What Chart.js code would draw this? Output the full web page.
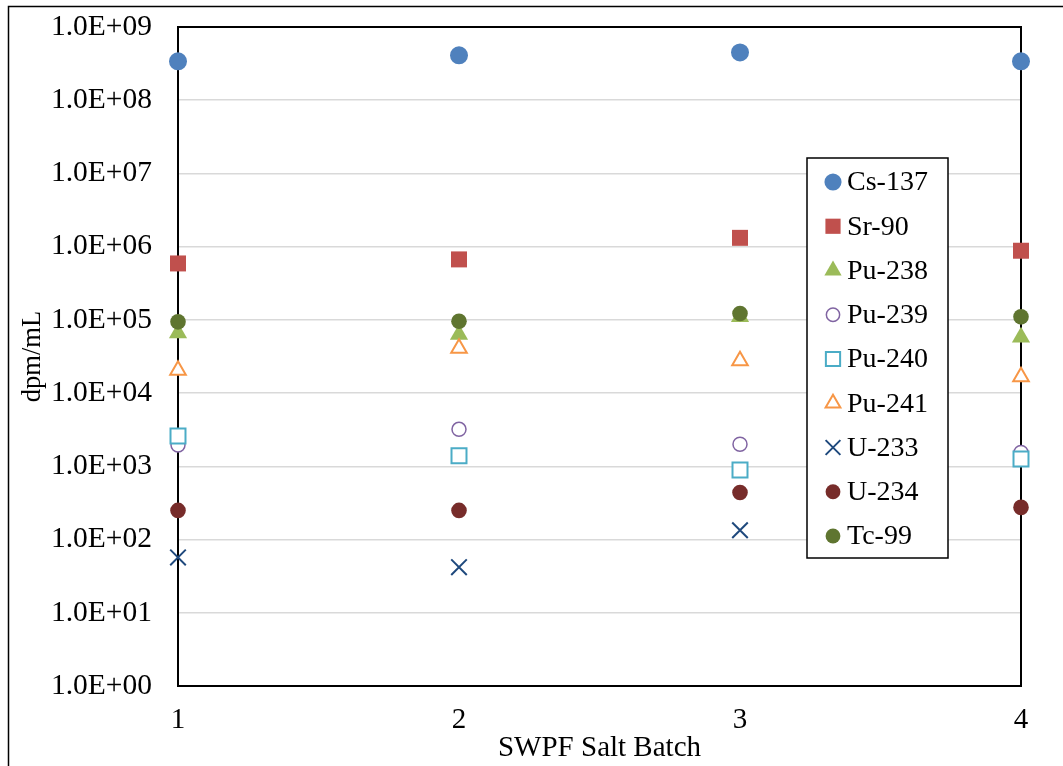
<!DOCTYPE html>
<html>
<head>
<meta charset="utf-8">
<script src="https://cdn.jsdelivr.net/npm/chart.js@4/dist/chart.umd.min.js"></script>
<style>
html,body{margin:0;padding:0;background:#fff;}
#wrap{width:1063px;height:766px;position:relative;}
</style>
</head>
<body>
<div id="wrap"><canvas id="c" width="1063" height="766"></canvas></div>
<script>
const batches = [1, 2, 3, 4];
const xTickLabels = ['1', '2', '3', '4'];
const yTickValues = [1, 10, 100, 1000, 1e4, 1e5, 1e6, 1e7, 1e8, 1e9];
const yTickLabels = ['1.0E+00','1.0E+01','1.0E+02','1.0E+03','1.0E+04','1.0E+05','1.0E+06','1.0E+07','1.0E+08','1.0E+09'];
const seriesNames = ['Cs-137','Sr-90','Pu-238','Pu-239','Pu-240','Pu-241','U-233','U-234','Tc-99'];

const cs137 = [3.4e8, 4.1e8, 4.5e8, 3.4e8];
const sr90  = [5.9e5, 6.7e5, 1.32e6, 8.8e5];
const pu238 = [6.6e4, 6.3e4, 1.1e5, 5.8e4];
const pu239 = [1.95e3, 3.2e3, 2.0e3, 1.55e3];
const pu240 = [2.6e3, 1.4e3, 890, 1.26e3];
const pu241 = [2.06e4, 4.1e4, 2.76e4, 1.67e4];
const u233  = [57, 42, 134, null];
const u234  = [250, 250, 440, 275];
const tc99  = [9.4e4, 9.6e4, 1.22e5, 1.1e5];

const seriesValues = [cs137, sr90, pu238, pu239, pu240, pu241, u233, u234, tc99];
const styles = [
  {pointStyle:'circle',   radius:9,    bg:'#4F81BD', border:'#4F81BD', bw:0},
  {pointStyle:'rect',     radius:11.3, bg:'#C0504D', border:'#C0504D', bw:0},
  {pointStyle:'triangle', radius:10.5, bg:'#9BBB59', border:'#9BBB59', bw:0},
  {pointStyle:'circle',   radius:7,    bg:'#FFFFFF', border:'#8064A2', bw:1.5},
  {pointStyle:'rect',     radius:10.6, bg:'#FFFFFF', border:'#4BACC6', bw:2},
  {pointStyle:'triangle', radius:9,    bg:'#FFFFFF', border:'#F79646', bw:2},
  {pointStyle:'crossRot', radius:11,   bg:'#1F497D', border:'#1F497D', bw:2},
  {pointStyle:'circle',   radius:7.8,  bg:'#772C2A', border:'#772C2A', bw:0},
  {pointStyle:'circle',   radius:7.8,  bg:'#5F7530', border:'#5F7530', bw:0}
];

const datasets = seriesNames.map((name, i) => ({
  label: name,
  data: batches.map((b, j) => ({x: b, y: seriesValues[i][j]})).filter(p => p.y !== null),
  pointStyle: styles[i].pointStyle,
  pointRadius: styles[i].radius,
  pointBackgroundColor: styles[i].bg,
  pointBorderColor: styles[i].border,
  pointBorderWidth: styles[i].bw,
  showLine: false,
  clip: false,
  order: seriesNames.length - i
}));

const SERIF = "'Liberation Serif', 'Times New Roman', serif";

const framePlugin = {
  id: 'frame',
  beforeDraw(chart) {
    const ctx = chart.ctx;
    ctx.save();
    ctx.fillStyle = '#fff';
    ctx.fillRect(0, 0, chart.width, chart.height);
    ctx.restore();
  },
  beforeDatasetsDraw(chart) {
    const {ctx, chartArea: a} = chart;
    ctx.save();
    ctx.strokeStyle = '#000';
    ctx.lineWidth = 2;
    ctx.strokeRect(a.left, a.top, a.right - a.left, a.bottom - a.top);
    ctx.restore();
  },
  afterDraw(chart) {
    const ctx = chart.ctx;
    ctx.save();
    ctx.strokeStyle = '#000';
    ctx.lineWidth = 1.5;
    ctx.beginPath();
    ctx.moveTo(8.5, chart.height + 2);
    ctx.lineTo(8.5, 6.5);
    ctx.lineTo(chart.width + 2, 6.5);
    ctx.stroke();
    const lx = 807, ly = 158, lw = 141, lh = 400;
    ctx.fillStyle = '#fff';
    ctx.fillRect(lx, ly, lw, lh);
    ctx.lineWidth = 1.5;
    ctx.strokeRect(lx, ly, lw, lh);
    const step = 44.25;
    chart.data.datasets.forEach((ds, i) => {
      const cy = 182 + i * step;
      const st = styles[i];
      ctx.fillStyle = st.bg;
      ctx.strokeStyle = st.border;
      ctx.lineWidth = st.bw;
      Chart.helpers.drawPoint(ctx, {pointStyle: st.pointStyle, radius: st.radius * 0.95, borderWidth: st.bw, rotation: 0}, 833, cy);
      ctx.fillStyle = '#000';
      ctx.font = "28px " + SERIF;
      ctx.textAlign = 'left';
      ctx.textBaseline = 'middle';
      ctx.fillText(ds.label, 847, cy + 1);
    });
    ctx.restore();
  }
};

new Chart(document.getElementById('c'), {
  type: 'scatter',
  data: {datasets},
  options: {
    responsive: false,
    animation: false,
    events: [],
    layout: {padding: {top: 27, right: 42, left: 0, bottom: 0}},
    plugins: {legend: {display: false}, tooltip: {enabled: false}},
    scales: {
      x: {
        type: 'linear',
        min: 1, max: 4,
        afterFit(s) { s.height = 80; s.paddingLeft = 0; s.paddingRight = 0; },
        afterBuildTicks(s) { s.ticks = batches.map(v => ({value: v})); },
        grid: {display: false, drawTicks: false},
        border: {display: false},
        ticks: {
          padding: 17,
          color: '#000',
          font: {family: SERIF, size: 29},
          callback: (v) => xTickLabels[batches.indexOf(v)]
        },
        title: {display: true, text: 'SWPF Salt Batch', color: '#000', font: {family: SERIF, size: 29}, padding: {top: 0, bottom: 0}}
      },
      y: {
        type: 'logarithmic',
        min: 1, max: 1e9,
        afterFit(s) { s.width = 178; s.paddingTop = 0; s.paddingBottom = 0; },
        afterBuildTicks(s) { s.ticks = yTickValues.map(v => ({value: v})); },
        grid: {color: '#D9D9D9', lineWidth: 1.5, drawTicks: false},
        border: {display: false},
        ticks: {
          padding: 26,
          color: '#000',
          font: {family: SERIF, size: 29.5},
          autoSkip: false,
          callback: (v) => yTickLabels[yTickValues.indexOf(v)]
        },
        title: {display: true, text: 'dpm/mL', color: '#000', font: {family: SERIF, size: 26.5}, padding: {top: 17, bottom: 0}}
      }
    }
  },
  plugins: [framePlugin]
});
</script>
</body>
</html>
